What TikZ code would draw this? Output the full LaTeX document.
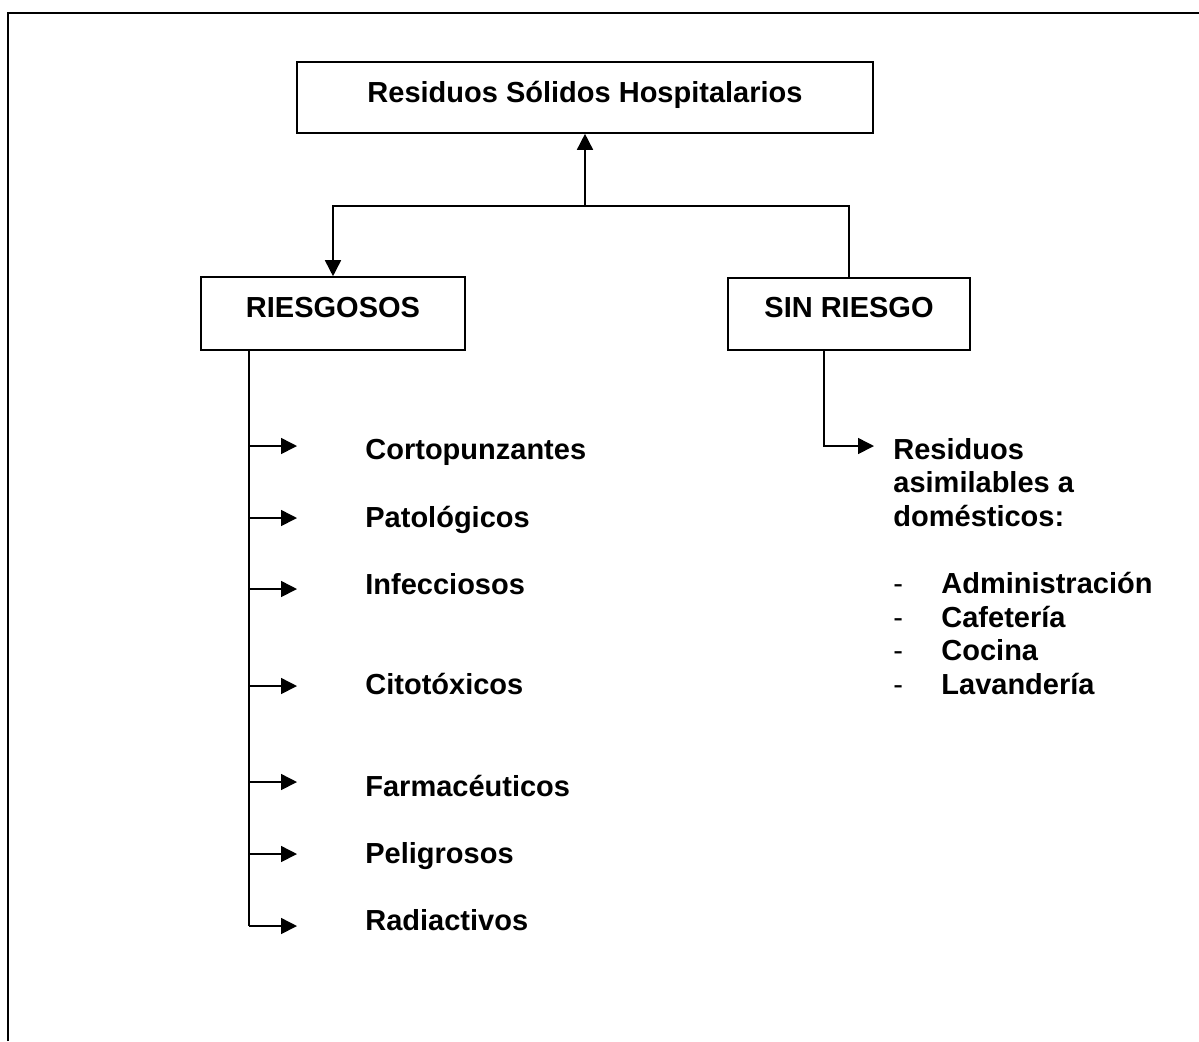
\documentclass[tikz,border=0pt]{standalone}
\usepackage{fontspec}
\setmainfont{Liberation Sans}
\usetikzlibrary{arrows.meta}
\begin{document}
\begin{tikzpicture}[x=0.5pt,y=-0.5pt,
  boxst/.style={draw, line width=0.8pt, inner sep=0pt},
  lbl/.style={font=\bfseries\fontsize{14.5}{17}\selectfont, inner sep=0pt, anchor=base west},
  ctrlbl/.style={font=\bfseries\fontsize{14.5}{17}\selectfont, inner sep=0pt, anchor=base},
  dashlbl/.style={font=\fontsize{14.5}{17}\selectfont, inner sep=0pt, anchor=base west},
  conn/.style={line width=0.8pt},
  arr/.style={conn, -{Triangle[length=8pt,width=8pt]}}]
\useasboundingbox (0,0) rectangle (1199,1041);
% outer frame
\draw[line width=0.9pt] (8,1041) -- (8,13) -- (1199,13);

% boxes
\node[boxst, minimum width=288pt, minimum height=35.5pt] (top) at (585,97.5) {};
\node[ctrlbl] (toptxt) at (585,102) {Residuos Sólidos Hospitalarios};
\node[boxst, minimum width=132pt, minimum height=36.5pt] (riesg) at (333,313.5) {};
\node[ctrlbl] (riesgtxt) at (333,317) {RIESGOSOS};
\node[boxst, minimum width=121pt, minimum height=36pt] (sinr) at (849,314) {};
\node[ctrlbl] (sinrtxt) at (849,317) {SIN RIESGO};

% top connectors
\coordinate (j) at (585,206);
\draw[arr] (j) -- (top.south);
\draw[arr] (j) -| (riesg.north);
\draw[conn] (j) -| (sinr.north);

% left list
\coordinate (ls) at (249,350);
\coordinate (l1) at (249,446); \coordinate (t1) at (297,446);
\coordinate (l2) at (249,518); \coordinate (t2) at (297,518);
\coordinate (l3) at (249,589); \coordinate (t3) at (297,589);
\coordinate (l4) at (249,686); \coordinate (t4) at (297,686);
\coordinate (l5) at (249,782); \coordinate (t5) at (297,782);
\coordinate (l6) at (249,854); \coordinate (t6) at (297,854);
\coordinate (l7) at (249,926); \coordinate (t7) at (297,926);
\draw[conn] (ls) -- (l7);
\foreach \i in {1,...,7} { \draw[arr] (l\i) -- (t\i); }

\node[lbl] (c1) at (365,459) {Cortopunzantes};
\node[lbl] (c2) at (365,527) {Patológicos};
\node[lbl] (c3) at (365,594) {Infecciosos};
\node[lbl] (c4) at (365,694) {Citotóxicos};
\node[lbl] (c5) at (365,796) {Farmacéuticos};
\node[lbl] (c6) at (365,863) {Peligrosos};
\node[lbl] (c7) at (365,930) {Radiactivos};

% right branch
\coordinate (rs) at (824,350);
\coordinate (rc) at (824,446);
\coordinate (rt) at (874,446);
\draw[arr] (rs) -- (rc) -- (rt);

\node[lbl] (r1) at (893,459) {Residuos};
\node[lbl] (r2) at (893,492.5) {asimilables a};
\node[lbl] (r3) at (893,526) {domésticos:};

\node[dashlbl] (d1) at (893,593) {-};
\node[dashlbl] (d2) at (893,627) {-};
\node[dashlbl] (d3) at (893,660) {-};
\node[dashlbl] (d4) at (893,694) {-};
\node[lbl] (s1) at (941,593) {Administración};
\node[lbl] (s2) at (941,627) {Cafetería};
\node[lbl] (s3) at (941,660) {Cocina};
\node[lbl] (s4) at (941,694) {Lavandería};
\end{tikzpicture}
\end{document}
